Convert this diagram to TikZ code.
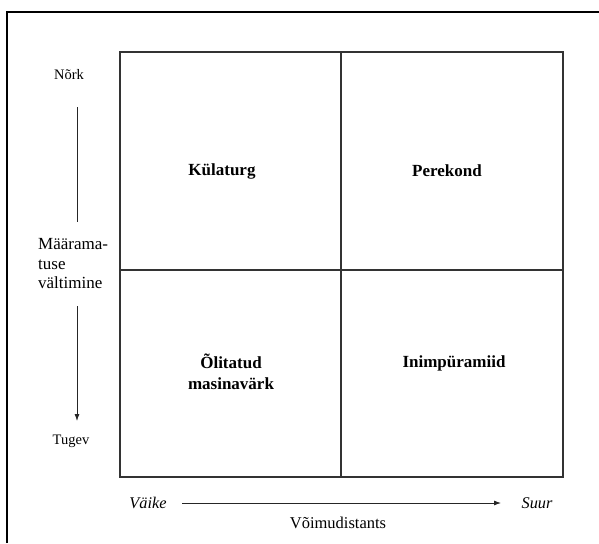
\documentclass[tikz,border=0pt]{standalone}
\usepackage{fontspec}
\setmainfont{Liberation Serif}
\usepackage{tikz}
\usetikzlibrary{arrows.meta}

\begin{document}
\begin{tikzpicture}[x=1pt,y=-1pt]
\tikzstyle{every node}+=[inner sep=0pt]
\tikzstyle{quad}=[font=\fontsize{17}{21}\selectfont\bfseries, align=center]
\tikzstyle{ends}=[font=\fontsize{14.5}{17}\selectfont]
\tikzstyle{grid}=[black!80, line width=1.1pt]
\tikzstyle{scale arrow}=[black!85, line width=0.8pt, -{Latex[length=7pt,width=5pt]}]
\useasboundingbox (0,0) rectangle (599,543);
\draw [black, line width=1.8pt] (7,543) -- (7,12) -- (599,12);
\draw [grid] (120,52) rectangle (563,477);
\draw [grid] (341,52) -- (341,477);
\draw [grid] (120,270) -- (563,270);
\node (kulaturg) at (222,171) [quad] {Külaturg};
\node (perekond) at (447,171) [quad] {Perekond};
\node (olitatud) at (231,372) [quad] {Õlitatud\\masinavärk};
\node (inimpyr) at (454,363) [quad] {Inimpüramiid};
\node (nork) at (69,75) [ends] {Nõrk};
\node (tugev) at (71,441) [ends] {Tugev};
\node (maarama) at (38,264) [anchor=west, align=left, font=\fontsize{17}{19.5}\selectfont] {Määrama-\\tuse\\vältimine};
\coordinate (vtop1) at (77,107);
\coordinate (vtop2) at (77,222);
\coordinate (vbot1) at (77,306);
\coordinate (vbot2) at (77,421);
\draw [black!85, line width=0.8pt] (vtop1) -- (vtop2);
\draw [scale arrow] (vbot1) -- (vbot2);
\node (vaike) at (148,503) [font=\fontsize{16.3}{19}\selectfont\itshape] {Väike};
\node (suur) at (537,503) [font=\fontsize{16.3}{19}\selectfont\itshape] {Suur};
\node (voim) at (338,523) [font=\fontsize{16.5}{19}\selectfont] {Võimudistants};
\coordinate (hleft) at (182,503);
\coordinate (hright) at (501,503);
\draw [scale arrow] (hleft) -- (hright);
\end{tikzpicture}
\end{document}
